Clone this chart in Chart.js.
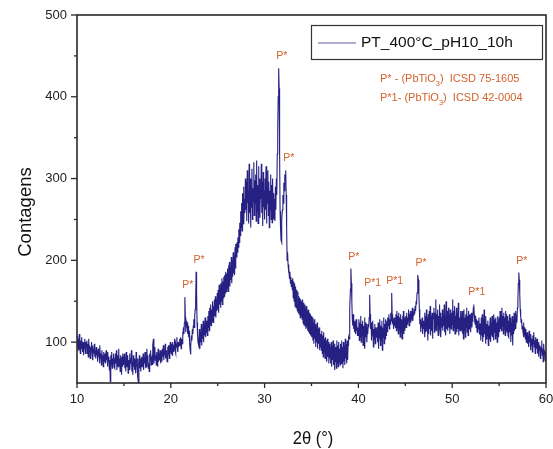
<!DOCTYPE html>
<html>
<head>
<meta charset="utf-8">
<script src="https://cdn.jsdelivr.net/npm/chart.js@4.4.1/dist/chart.umd.min.js"></script>
<style>
  html, body { margin: 0; padding: 0; background: #ffffff; }
  canvas { display: block; }
</style>
</head>
<body>
<canvas id="c" width="553" height="449"></canvas>
<script>
// ---- data ----
const angleStart = 10;     // 2θ of first sample (°)
const angleStep = 0.05;    // sampling step (°)
const counts = [
  98,108,94,104,90,110,96,86,102,92,106,95,88,100,84,98,92,104,86,100,
  94,102,86,98,82,104,90,96,80,94,88,100,84,96,78,92,86,98,82,90,
  80,94,84,90,76,92,82,88,74,96,80,86,72,90,78,84,70,88,76,82,
  86,74,90,78,84,70,88,76,82,66,78,52,84,72,88,68,80,74,86,70,
  80,68,86,74,90,66,78,84,70,92,72,80,64,84,74,60,82,70,86,72,
  72,86,68,80,64,88,74,70,84,62,78,72,86,66,80,74,90,64,76,60,
  84,70,80,66,78,62,88,74,70,80,56,50,74,84,68,80,64,76,82,70,
  72,86,66,80,74,88,68,82,70,92,76,84,68,74,64,86,78,90,72,80,
  82,72,96,104,74,86,94,78,84,72,88,80,70,92,76,86,78,90,74,82,
  86,76,92,82,96,78,88,84,98,80,90,86,76,94,82,96,88,80,94,100,
  90,86,98,84,100,92,88,96,104,90,86,98,94,106,92,88,100,94,98,104,
  96,106,92,104,98,112,106,118,110,124,155,130,112,126,118,124,110,120,106,114,
  100,92,85,96,108,102,116,110,120,128,118,132,140,150,186,160,124,110,100,104,
  96,116,92,112,100,122,96,118,104,126,100,122,108,130,106,128,112,126,108,132,
  118,138,114,142,122,146,120,140,126,150,124,144,128,152,132,156,130,152,138,160,
  140,164,136,170,146,166,142,172,150,178,146,174,154,180,156,182,160,186,162,184,
  166,190,162,194,170,198,168,192,176,204,172,200,180,210,184,206,182,216,190,220,
  204,222,210,228,216,238,222,246,230,260,240,270,236,282,250,290,244,275,258,300,
  262,296,248,310,270,285,245,318,258,300,240,292,265,312,250,288,272,320,255,298,
  270,305,248,322,260,292,245,315,268,300,252,290,275,318,258,296,242,308,265,285,
  250,300,262,315,245,290,270,310,255,296,240,285,262,305,250,292,246,300,258,282,
  250,275,248,290,262,300,280,330,360,400,435,410,330,260,240,225,222,250,262,280,
  270,295,285,305,300,310,280,240,200,210,195,185,190,178,186,172,180,168,176,164,
  178,154,174,150,172,144,168,142,164,146,138,162,136,156,134,154,130,152,132,150,
  128,152,124,148,122,146,120,142,116,144,118,138,114,140,112,136,110,134,108,132,
  126,106,130,102,124,98,128,104,122,94,120,100,124,92,116,98,118,90,114,94,
  110,90,114,86,108,82,112,88,104,80,106,84,102,76,104,82,100,74,98,80,
  94,74,100,70,96,78,102,72,92,66,98,76,94,68,102,74,96,70,100,76,
  92,72,98,74,102,78,94,68,100,76,96,72,104,80,98,74,102,78,96,106,
  104,120,140,165,190,172,150,128,120,134,116,126,112,124,110,128,114,122,108,118,
  108,128,102,124,106,132,100,122,108,126,96,120,104,130,92,124,106,122,100,118,
  110,122,118,130,158,134,116,124,102,118,108,126,94,116,104,122,98,118,106,112,
  118,100,124,92,122,104,128,96,120,102,126,90,118,106,130,98,122,104,128,108,
  118,126,112,130,120,134,116,128,122,136,126,160,134,122,128,116,130,120,126,118,
  134,114,138,118,132,110,136,116,130,106,134,112,128,104,132,116,138,110,130,114,
  124,132,118,136,122,130,126,140,120,134,128,138,124,132,130,142,126,136,132,140,
  134,144,138,150,146,160,170,182,176,158,140,122,128,112,124,118,130,110,126,116,
  124,136,106,132,112,140,114,130,102,134,110,138,116,144,108,132,114,136,104,128,
  130,142,112,136,116,152,114,134,120,140,108,132,116,146,112,136,106,130,118,140,
  114,134,120,146,112,132,108,150,116,138,122,114,142,118,134,110,140,120,116,136,
  122,152,114,138,118,144,110,132,120,142,112,136,116,148,108,130,126,114,138,118,
  116,138,110,132,104,140,114,130,106,134,118,142,112,132,108,138,116,130,134,112,
  124,136,118,130,128,142,146,134,126,122,132,118,128,112,126,120,116,130,110,122,
  122,102,130,108,134,100,128,106,140,110,124,98,132,104,122,108,126,96,120,104,
  118,130,100,124,108,132,106,126,102,134,112,128,104,130,108,124,100,132,114,106,
  130,112,138,116,134,114,142,120,132,110,136,116,130,108,138,114,134,112,132,108,
  126,106,134,112,130,100,124,108,132,96,128,110,136,114,130,138,116,134,124,142,
  150,172,185,176,160,140,132,124,128,116,120,112,124,106,118,110,104,116,100,108,
  112,98,108,94,114,100,106,90,110,96,104,88,108,98,112,94,102,86,106,96,
  92,104,86,98,82,100,90,96,80,94,88,102,84,92,76,98,86,90,78,88,
  76
];
const seriesName = 'PT_400°C_pH10_10h';
const xTickValues = [10, 20, 30, 40, 50, 60];
const xMinorValues = [15, 25, 35, 45, 55];
const yTickValues = [100, 200, 300, 400, 500];
const yMinorValues = [150, 250, 350, 450];
const peakAngles = [21.5, 22.7, 31.5, 32.25, 39.2, 41.2, 43.55, 46.35, 52.3, 57.1];
const peakLabels = ['P*', 'P*', 'P*', 'P*', 'P*', 'P*1', 'P*1', 'P*', 'P*1', 'P*'];
const phaseNotes = [
  ['P* - (PbTiO', '3', ')  ICSD 75-1605'],
  ['P*1- (PbTiO', '3', ')  ICSD 42-0004']
];

const points = counts.map((c, i) => ({ x: +(angleStart + i * angleStep).toFixed(2), y: c }));

const FONT = "Arial, 'Liberation Sans', sans-serif";
const ORANGE = '#d3622b';
const AXIS = '#2a2a2a';

function peakTop(angle) {
  let best = -Infinity;
  points.forEach(p => { if (Math.abs(p.x - angle) <= 0.08 && p.y > best) best = p.y; });
  return best;
}

const deco = {
  id: 'deco',
  afterDraw(chart) {
    const { ctx, chartArea: a, scales: { x, y } } = chart;
    ctx.save();
    // frame
    ctx.strokeStyle = AXIS;
    ctx.lineWidth = 1.6;
    ctx.strokeRect(a.left, a.top, a.right - a.left, a.bottom - a.top);
    // ticks
    ctx.lineWidth = 1.3;
    const seg = (x1, y1, x2, y2) => { ctx.beginPath(); ctx.moveTo(x1, y1); ctx.lineTo(x2, y2); ctx.stroke(); };
    xTickValues.forEach(v => { const p = x.getPixelForValue(v); seg(p, a.bottom, p, a.bottom + 5); });
    xMinorValues.forEach(v => { const p = x.getPixelForValue(v); seg(p, a.bottom, p, a.bottom + 3); });
    yTickValues.forEach(v => { const p = y.getPixelForValue(v); seg(a.left, p, a.left - 6, p); });
    yMinorValues.forEach(v => { const p = y.getPixelForValue(v); seg(a.left, p, a.left - 3, p); });

    // axis titles
    ctx.fillStyle = '#111';
    ctx.save();
    ctx.translate(31, 212);
    ctx.rotate(-Math.PI / 2);
    ctx.font = '18.5px ' + FONT;
    ctx.textAlign = 'center';
    ctx.textBaseline = 'alphabetic';
    ctx.fillText('Contagens', 0, 0);
    ctx.restore();

    ctx.save();
    ctx.translate(313, 444);
    ctx.scale(0.87, 1);
    ctx.font = '19px ' + FONT;
    ctx.textAlign = 'center';
    ctx.textBaseline = 'alphabetic';
    ctx.fillText('2θ (°)', 0, 0);
    ctx.restore();

    // legend box
    ctx.strokeStyle = '#333';
    ctx.lineWidth = 1.2;
    ctx.strokeRect(311.5, 25.5, 231, 34);
    ctx.strokeStyle = 'rgb(95,95,165)';
    ctx.lineWidth = 1.2;
    seg(318, 43, 356, 43);
    ctx.fillStyle = '#111';
    ctx.font = '15.5px ' + FONT;
    ctx.textAlign = 'left';
    ctx.textBaseline = 'alphabetic';
    ctx.fillText(seriesName, 361, 47);

    // phase notes
    ctx.fillStyle = ORANGE;
    phaseNotes.forEach((parts, i) => {
      let cx = 380;
      const by = 82 + i * 19;
      ctx.font = '11px ' + FONT;
      ctx.fillText(parts[0], cx, by);
      cx += ctx.measureText(parts[0]).width;
      ctx.font = '7.5px ' + FONT;
      ctx.fillText(parts[1], cx, by + 3.5);
      cx += ctx.measureText(parts[1]).width;
      ctx.font = '11px ' + FONT;
      ctx.fillText(parts[2], cx, by);
    });

    // peak labels
    ctx.font = '10.5px ' + FONT;
    ctx.textAlign = 'center';
    ctx.textBaseline = 'alphabetic';
    peakAngles.forEach((ang, i) => {
      const px = x.getPixelForValue(ang) + 3;
      const py = y.getPixelForValue(peakTop(ang)) - 9;
      ctx.fillText(peakLabels[i], px, py);
    });
    ctx.restore();
  }
};

new Chart(document.getElementById('c'), {
  type: 'line',
  data: {
    datasets: [{
      label: seriesName,
      data: points,
      borderColor: 'rgb(38,32,130)',
      borderWidth: 1.1,
      pointRadius: 0,
      tension: 0,
      fill: false
    }]
  },
  options: {
    responsive: false,
    animation: false,
    events: [],
    layout: { padding: { top: 15, right: 7, left: 0, bottom: 0 } },
    plugins: { legend: { display: false }, tooltip: { enabled: false } },
    scales: {
      x: {
        type: 'linear',
        min: 10, max: 60,
        ticks: { stepSize: 10, color: '#222', font: { family: FONT, size: 13 }, padding: 9, maxRotation: 0, autoSkip: false },
        grid: { display: true, drawOnChartArea: false, drawTicks: false, color: 'transparent' },
        border: { display: false },
        afterFit(s) { s.height = 66; s.paddingLeft = 0; s.paddingRight = 0; }
      },
      y: {
        min: 50, max: 500,
        ticks: {
          stepSize: 50, autoSkip: false, color: '#222', font: { family: FONT, size: 13 }, padding: 10,
          callback: v => (v % 100 === 0 ? String(v) : '')
        },
        grid: { display: true, drawOnChartArea: false, drawTicks: false, color: 'transparent' },
        border: { display: false },
        afterFit(s) { s.width = 77; s.paddingTop = 0; s.paddingBottom = 0; }
      }
    }
  },
  plugins: [deco]
});
</script>
</body>
</html>
